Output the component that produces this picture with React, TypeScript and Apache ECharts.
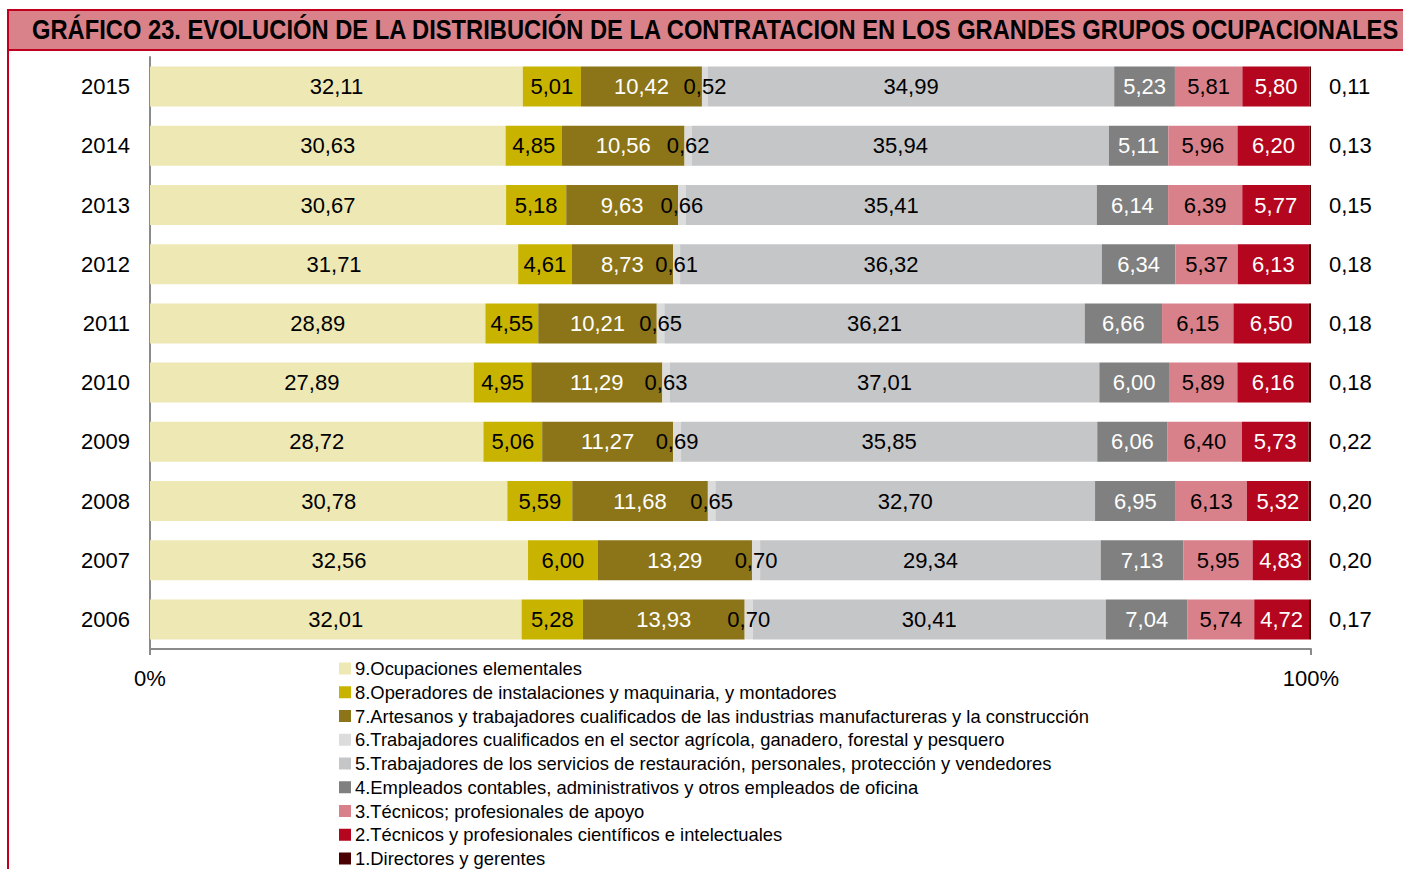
import React, { useEffect, useRef } from "react";
import * as echarts from "echarts";

const years = ["2006", "2007", "2008", "2009", "2010", "2011", "2012", "2013", "2014", "2015"];

const seriesNames = [
  "9.Ocupaciones elementales",
  "8.Operadores de instalaciones y maquinaria, y montadores",
  "7.Artesanos y trabajadores cualificados de las industrias manufactureras y la construcción",
  "6.Trabajadores cualificados en el sector agrícola, ganadero, forestal y pesquero",
  "5.Trabajadores de los servicios de restauración, personales, protección y vendedores",
  "4.Empleados contables, administrativos y otros empleados de oficina",
  "3.Técnicos; profesionales de apoyo",
  "2.Técnicos y profesionales científicos e intelectuales",
  "1.Directores y gerentes",
];

// values per group, ordered 2006 .. 2015
const g9 = [32.01, 32.56, 30.78, 28.72, 27.89, 28.89, 31.71, 30.67, 30.63, 32.11];
const g8 = [5.28, 6.0, 5.59, 5.06, 4.95, 4.55, 4.61, 5.18, 4.85, 5.01];
const g7 = [13.93, 13.29, 11.68, 11.27, 11.29, 10.21, 8.73, 9.63, 10.56, 10.42];
const g6 = [0.7, 0.7, 0.65, 0.69, 0.63, 0.65, 0.61, 0.66, 0.62, 0.52];
const g5 = [30.41, 29.34, 32.7, 35.85, 37.01, 36.21, 36.32, 35.41, 35.94, 34.99];
const g4 = [7.04, 7.13, 6.95, 6.06, 6.0, 6.66, 6.34, 6.14, 5.11, 5.23];
const g3 = [5.74, 5.95, 6.13, 6.4, 5.89, 6.15, 5.37, 6.39, 5.96, 5.81];
const g2 = [4.72, 4.83, 5.32, 5.73, 6.16, 6.5, 6.13, 5.77, 6.2, 5.8];
const g1 = [0.17, 0.2, 0.2, 0.22, 0.18, 0.18, 0.18, 0.15, 0.13, 0.11];

const seriesValues = [g9, g8, g7, g6, g5, g4, g3, g2, g1];
const colors = ["#EEE8B5", "#C8B400", "#8B7518", "#DCDCDC", "#C5C6C8", "#808080", "#D9818A", "#B4061E", "#4A0000"];
const labelColors = ["#000", "#000", "#fff", "#000", "#000", "#fff", "#000", "#fff", "#000"];

const titleText =
  "GRÁFICO 23. EVOLUCIÓN DE LA DISTRIBUCIÓN DE LA CONTRATACION EN LOS GRANDES GRUPOS OCUPACIONALES";

const FONT = "'Liberation Sans', Arial, sans-serif";

export default function App() {
  const ref = useRef<HTMLDivElement>(null);
  useEffect(() => {
    if (!ref.current) return;
    const chart = echarts.init(ref.current, null, { renderer: "svg" });
    const fmt = (v: number) => v.toFixed(2).replace(".", ",");
    const series = seriesNames.map((name, i) => ({
      name,
      type: "bar",
      stack: "total",
      barWidth: 40,
      data: seriesValues[i],
      itemStyle: { color: colors[i] },
      label: {
        show: true,
        position: i === 8 ? "right" : "inside",
        distance: 18,
        color: labelColors[i],
        fontSize: 22,
        fontFamily: FONT,
        formatter: (p: any) => fmt(p.value),
      },
    }));
    chart.setOption({
      animation: false,
      backgroundColor: "#fff",
      textStyle: { fontFamily: FONT },
      grid: { left: 150, right: 92, top: 57, bottom: 220, containLabel: false },
      xAxis: {
        type: "value",
        min: 0,
        max: 100,
        interval: 100,
        axisLine: { show: true, lineStyle: { color: "#8a8a8a", width: 2 } },
        axisTick: { show: true, length: 6, lineStyle: { color: "#8a8a8a", width: 2 } },
        splitLine: { show: false },
        axisLabel: { formatter: "{value}%", fontSize: 22, color: "#000", margin: 18, fontFamily: FONT },
      },
      yAxis: {
        type: "category",
        data: years,
        axisLine: { show: true, lineStyle: { color: "#8a8a8a", width: 2 } },
        axisTick: { show: false },
        axisLabel: { fontSize: 22, color: "#000", margin: 20, fontFamily: FONT },
      },
      legend: {
        orient: "vertical",
        left: 339,
        top: 659,
        height: 210,
        padding: 0,
        itemWidth: 12,
        itemHeight: 12,
        itemGap: 4.75,
        icon: "rect",
        data: seriesNames,
        textStyle: { fontSize: 18.4, lineHeight: 19, color: "#000", fontFamily: FONT, padding: [0, 0, 0, -1] },
      },
      graphic: [
        {
          type: "rect",
          left: 7,
          top: 9,
          shape: { width: 1410, height: 40 },
          style: { fill: "#D9828A", stroke: "#C0001E", lineWidth: 2 },
          silent: true,
        },
        {
          type: "line",
          shape: { x1: 8, y1: 49, x2: 8, y2: 869 },
          style: { stroke: "#C0001E", lineWidth: 2 },
          silent: true,
        },
        {
          type: "text",
          x: 32,
          y: 29,
          scaleX: 0.879,
          style: {
            text: titleText,
            fill: "#000",
            font: "bold 27px 'Liberation Sans', Arial, sans-serif",
            textVerticalAlign: "middle",
            verticalAlign: "middle",
          },
          silent: true,
        },
      ],
      series,
    });
    return () => chart.dispose();
  }, []);
  return (
    <div
      ref={ref}
      style={{ position: "absolute", left: 0, top: 0, width: 1403, height: 869 }}
    />
  );
}
